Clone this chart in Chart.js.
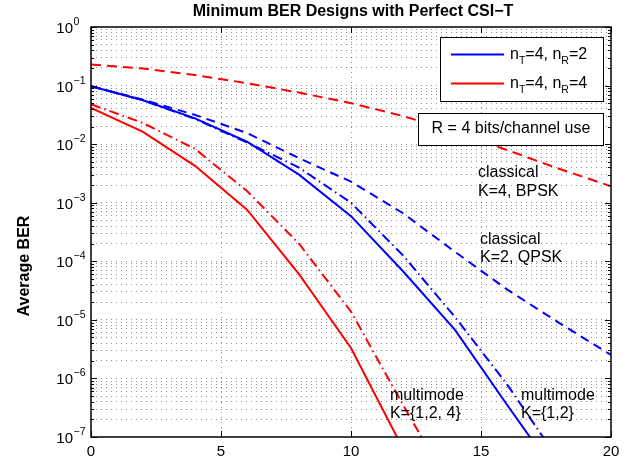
<!DOCTYPE html>
<html>
<head>
<meta charset="utf-8">
<title>Minimum BER Designs with Perfect CSI-T</title>
<script src="https://cdn.jsdelivr.net/npm/chart.js@4.4.0/dist/chart.umd.min.js"></script>
<style>
  html, body { margin: 0; padding: 0; background: #fff; }
  #berChart { display: block; }
</style>
</head>
<body>
<canvas id="berChart" width="634" height="463"></canvas>
<script>
// SNR points (dB)
const snrDb = [0, 2, 4, 6, 8, 10, 12, 14, 16, 18, 20];

// n_T=4, n_R=2 (blue)
const berMultimodeNr2 = [9.77e-2, 5.62e-2, 2.75e-2, 1.10e-2, 3.02e-3, 5.89e-4, 6.76e-5, 6.76e-6, 3.55e-7, 2.0e-8];
const berDashDotNr2 = [9.77e-2, 5.62e-2, 2.69e-2, 1.07e-2, 3.98e-3, 1.0e-3, 1.26e-4, 1.12e-5, 7.94e-7, 3.98e-8];
const berClassicalQpskNr2 = [9.77e-2, 5.75e-2, 3.16e-2, 1.55e-2, 5.75e-3, 2.29e-3, 6.61e-4, 1.45e-4, 3.31e-5, 8.91e-6, 2.51e-6];

// n_T=4, n_R=4 (red)
const berMultimodeNr4 = [4.17e-2, 1.62e-2, 4.27e-3, 7.59e-4, 6.03e-5, 3.31e-6, 6.31e-8];
const berDashDotNr4 = [4.79e-2, 2.29e-2, 8.32e-3, 1.58e-3, 2.0e-4, 1.38e-5, 3.55e-7, 1.0e-8];
const berClassicalBpskNr4 = [0.229, 0.195, 0.151, 0.110, 7.59e-2, 5.01e-2, 3.02e-2, 1.62e-2, 7.94e-3, 3.80e-3, 1.91e-3];

// axes
const xTickValues = [0, 5, 10, 15, 20];
const yDecadeExp = [0, -1, -2, -3, -4, -5, -6, -7];
const yExpLabels = ['0', '\u22121', '\u22122', '\u22123', '\u22124', '\u22125', '\u22126', '\u22127'];

const FONT = '"Liberation Sans", Arial, Helvetica, sans-serif';
const BLUE = '#0000ff';
const RED = '#ff0000';

function pts(arr) {
    return arr.map((v, i) => ({ x: snrDb[i], y: v }));
}

function isDecade(v) {
    const l = Math.log10(v);
    return Math.abs(l - Math.round(l)) < 1e-9;
}

// text with subscripts: parts = [{t, sub}]
function drawRich(ctx, parts, x, y, size) {
    parts.forEach(p => {
        const s = p.sub ? size * 0.66 : size;
        ctx.font = s + 'px ' + FONT;
        ctx.fillText(p.t, x, p.sub ? y + 4.5 : y);
        x += ctx.measureText(p.t).width;
    });
}

const decorPlugin = {
    id: 'decor',
    afterDraw(chart) {
        const { ctx, chartArea: a, scales } = chart;
        const xs = scales.x, ys = scales.y;
        ctx.save();
        ctx.fillStyle = '#000';
        ctx.strokeStyle = '#000';

        // inner tick marks
        ctx.lineWidth = 1;
        ctx.beginPath();
        ys.ticks.forEach(t => {
            const py = Math.round(ys.getPixelForValue(t.value)) + 0.5;
            const len = isDecade(t.value) ? 6 : 3;
            ctx.moveTo(a.left, py); ctx.lineTo(a.left + len, py);
            ctx.moveTo(a.right, py); ctx.lineTo(a.right - len, py);
        });
        xTickValues.forEach(v => {
            const px = Math.round(xs.getPixelForValue(v)) + 0.5;
            ctx.moveTo(px, a.bottom); ctx.lineTo(px, a.bottom - 6);
            ctx.moveTo(px, a.top); ctx.lineTo(px, a.top + 6);
        });
        ctx.stroke();

        // axes box
        ctx.lineWidth = 1.5;
        ctx.strokeRect(a.left, a.top, a.right - a.left, a.bottom - a.top);

        // x tick labels
        ctx.font = '15px ' + FONT;
        ctx.textAlign = 'center';
        ctx.textBaseline = 'alphabetic';
        xTickValues.forEach(v => {
            ctx.fillText(String(v), xs.getPixelForValue(v), 456);
        });

        // y tick labels 10^k
        yDecadeExp.forEach((e, i) => {
            const py = ys.getPixelForValue(Math.pow(10, e));
            ctx.font = '15px ' + FONT;
            ctx.textAlign = 'right';
            ctx.fillText('10', 73, py + 6);
            ctx.font = '10.5px ' + FONT;
            ctx.textAlign = 'left';
            ctx.fillText(yExpLabels[i], 73.5, py - 2);
        });

        // title
        ctx.font = 'bold 16px ' + FONT;
        ctx.textAlign = 'center';
        ctx.fillText('Minimum BER Designs with Perfect CSI\u2212T', 353, 16);

        // y axis title
        ctx.save();
        ctx.translate(29, 266);
        ctx.rotate(-Math.PI / 2);
        ctx.font = 'bold 16px ' + FONT;
        ctx.fillText('Average BER', 0, 0);
        ctx.restore();

        // legend box
        ctx.fillStyle = '#fff';
        ctx.fillRect(440.5, 37.5, 163, 64);
        ctx.lineWidth = 1;
        ctx.strokeRect(440.5, 37.5, 163, 64);
        ctx.lineWidth = 2;
        ctx.strokeStyle = BLUE;
        ctx.beginPath(); ctx.moveTo(451, 54.5); ctx.lineTo(504, 54.5); ctx.stroke();
        ctx.strokeStyle = RED;
        ctx.beginPath(); ctx.moveTo(451, 83.5); ctx.lineTo(504, 83.5); ctx.stroke();
        ctx.fillStyle = '#000';
        ctx.textAlign = 'left';
        drawRich(ctx, [{ t: 'n' }, { t: 'T', sub: true }, { t: '=4, n' }, { t: 'R', sub: true }, { t: '=2' }], 510, 59, 16);
        drawRich(ctx, [{ t: 'n' }, { t: 'T', sub: true }, { t: '=4, n' }, { t: 'R', sub: true }, { t: '=4' }], 510, 88, 16);

        // rate box
        ctx.fillStyle = '#fff';
        ctx.fillRect(418.5, 113.5, 185, 32);
        ctx.strokeStyle = '#000';
        ctx.lineWidth = 1;
        ctx.strokeRect(418.5, 113.5, 185, 32);
        ctx.fillStyle = '#000';
        ctx.font = '16px ' + FONT;
        ctx.textAlign = 'center';
        ctx.fillText('R = 4 bits/channel use', 511, 133);

        // curve annotations
        ctx.textAlign = 'left';
        ctx.fillText('classical', 478, 177);
        ctx.fillText('K=4, BPSK', 478, 196);
        ctx.fillText('classical', 480, 244);
        ctx.fillText('K=2, QPSK', 480, 262);
        ctx.fillText('multimode', 390, 400);
        ctx.fillText('K={1,2, 4}', 390, 418);
        ctx.fillText('multimode', 521, 400);
        ctx.fillText('K={1,2}', 521, 418);

        ctx.restore();
    }
};

const gridColor = ctx => {
    const v = ctx.tick ? ctx.tick.value : null;
    if (v === 0 || v === 20 || v === 1 || v === 1e-7) return 'rgba(0,0,0,0)';
    return 'rgba(0,0,0,0.42)';
};

function line(label, data, color, dash) {
    return {
        label: label,
        data: pts(data),
        borderColor: color,
        backgroundColor: color,
        borderWidth: 2,
        borderDash: dash,
        pointRadius: 0,
        fill: false,
        tension: 0
    };
}

const chart = new Chart(document.getElementById('berChart'), {
    type: 'line',
    data: {
        datasets: [
            line('classical K=4, BPSK', berClassicalBpskNr4, RED, [10, 6]),
            line('n_R=4 dash-dot', berDashDotNr4, RED, [10, 4, 1.5, 4]),
            line('multimode K={1,2,4}', berMultimodeNr4, RED, []),
            line('classical K=2, QPSK', berClassicalQpskNr2, BLUE, [9, 6]),
            line('n_R=2 dash-dot', berDashDotNr2, BLUE, [10, 4, 1.5, 4]),
            line('multimode K={1,2}', berMultimodeNr2, BLUE, [])
        ]
    },
    options: {
        responsive: false,
        devicePixelRatio: 1,
        animation: false,
        layout: { padding: { top: 27, right: 23, bottom: 0, left: 0 } },
        plugins: {
            legend: { display: false },
            title: { display: false },
            tooltip: { enabled: false }
        },
        scales: {
            x: {
                type: 'linear',
                min: 0,
                max: 20,
                ticks: { stepSize: 5, display: false },
                grid: { color: gridColor, lineWidth: 1, drawTicks: false },
                border: { display: false, dash: [1, 4] },
                afterFit: s => { s.height = 26; }
            },
            y: {
                type: 'logarithmic',
                min: 1e-7,
                max: 1,
                ticks: { display: false },
                grid: { color: gridColor, lineWidth: 1, drawTicks: false },
                border: { display: false, dash: [1, 4] },
                afterBuildTicks: s => {
                    const t = [];
                    yDecadeExp.slice(1).reverse().forEach(e => {
                        for (let m = 1; m <= 9; m++) {
                            t.push({ value: Number((m * Math.pow(10, e)).toPrecision(3)) });
                        }
                    });
                    t.push({ value: 1 });
                    s.ticks = t;
                },
                afterFit: s => { s.width = 91; }
            }
        }
    },
    plugins: [decorPlugin]
});
</script>
</body>
</html>
